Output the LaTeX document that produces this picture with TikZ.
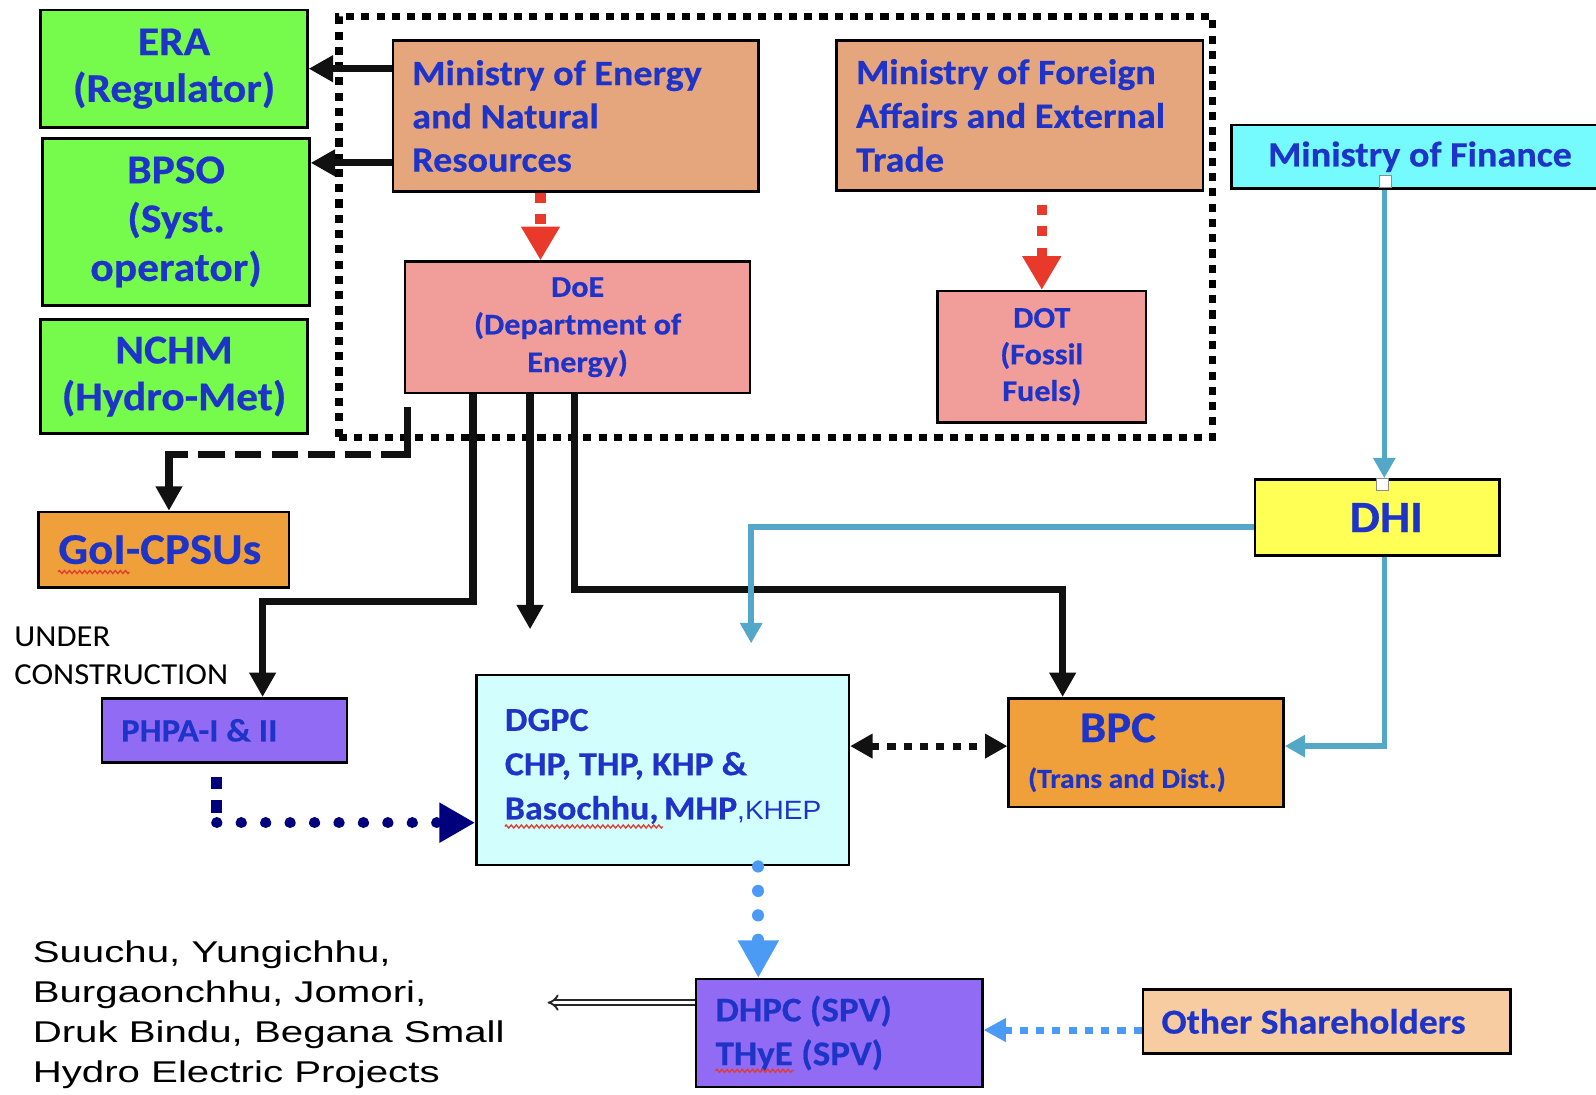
\documentclass[tikz,border=0pt]{standalone}
\usepackage{fontspec}
\setmainfont{Carlito}[FakeStretch=1.07, BoldFeatures={FakeBold=0.5}]
\newfontfamily\arialx{Liberation Sans}[FakeStretch=1.34]
\newfontfamily\arialk{Liberation Sans}[FakeStretch=1.06]
\usetikzlibrary{arrows.meta,calc,decorations.pathmorphing}
\definecolor{tblue}{RGB}{30,52,200}
\definecolor{cgreen}{RGB}{118,250,75}
\definecolor{cmin}{RGB}{230,166,125}
\definecolor{cpink}{RGB}{241,158,155}
\definecolor{ccyan}{RGB}{117,251,253}
\definecolor{cyel}{RGB}{255,255,85}
\definecolor{corange}{RGB}{240,160,58}
\definecolor{cpurp}{RGB}{145,107,243}
\definecolor{clcyan}{RGB}{210,254,254}
\definecolor{cpeach}{RGB}{246,204,160}
\definecolor{cred}{RGB}{232,57,43}
\definecolor{cblu}{RGB}{83,168,200}
\definecolor{cnavy}{RGB}{0,0,125}
\definecolor{clb}{RGB}{75,155,245}
\definecolor{cwave}{RGB}{225,60,50}
\definecolor{cblk}{RGB}{17,17,17}
\tikzset{
  bx/.style={draw=black, line width=2.5pt, inner sep=0pt, text=tblue},
  blk/.style={draw=cblk, line width=7pt, -{Triangle[length=24pt,width=25pt]}},
  blkline/.style={draw=cblk, line width=7pt, line cap=rect},
  blkdash/.style={draw=cblk, line width=7pt, dash pattern=on 26pt off 10pt},
  redar/.style={draw=cred, line width=10pt, dash pattern=on 10pt off 11pt, -{Triangle[length=33pt,width=36pt]}},
  blu/.style={draw=cblu, line width=5.5pt, -{Triangle[length=20pt,width=21pt]}},
  dd/.style={draw=cblk, line width=7pt, dash pattern=on 8pt off 8pt, {Triangle[length=22pt,width=23pt]}-{Triangle[length=22pt,width=23pt]}},
  navsq/.style={draw=cnavy, line width=11pt, dash pattern=on 12pt off 11pt},
  navdot/.style={draw=cnavy, line width=11pt, line cap=round, dash pattern=on 0.01pt off 24pt, -{Triangle[length=35pt,width=37pt]}},
  lbdot/.style={draw=clb, line width=12pt, line cap=round, dash pattern=on 0.01pt off 24pt, -{Triangle[length=37pt,width=38pt]}},
  lbsq/.style={draw=clb, line width=7pt, dash pattern=on 8pt off 8pt, -{Triangle[length=22pt,width=22pt]}},
  hol/.style={draw=black!85, line width=1.8pt, double=white, double distance=3.5pt, -{Implies}},
  hnd/.style={draw=black!45, fill=white, line width=0.8pt, minimum size=12pt, inner sep=0pt},
  wave/.style={draw=cwave, line width=1.3pt, decorate, decoration={zigzag, segment length=5pt, amplitude=1.5pt}},
  frame/.style={draw=black, line width=7pt, dash pattern=on 8pt off 7pt, inner sep=0pt}
}
\begin{document}
\begin{tikzpicture}[x=1pt,y=-1pt]
\useasboundingbox (0,0) rectangle (1568,1075);
\fill[white] (0,0) rectangle (1568,1075);

% dotted frame
\node[frame, minimum width=858pt, minimum height=414pt] (frame) at (762,223) {};

% boxes
\node[bx, fill=cgreen, minimum width=262pt, minimum height=115pt, align=center,
  font=\bfseries\fontsize{40}{46}\selectfont] (era) at (171,67.5) {ERA\\(Regulator)};
\node[bx, fill=cgreen, minimum width=262pt, minimum height=164pt, align=center,
  font=\bfseries\fontsize{40}{48}\selectfont] (bpso) at (173,218) {BPSO\\(Syst.\\operator)};
\node[bx, fill=cgreen, minimum width=262pt, minimum height=112pt, align=center,
  font=\bfseries\fontsize{40}{46}\selectfont] (nchm) at (171,370) {NCHM\\(Hydro-Met)};

\node[bx, fill=cmin, minimum width=359pt, minimum height=148pt, text width=321pt, align=flush left,
  font=\bfseries\fontsize{35}{42.5}\selectfont] (moe) at (565.5,114) {Ministry of Energy\\and Natural\\Resources};
\node[bx, fill=cmin, minimum width=360pt, minimum height=147pt, text width=322pt, align=flush left,
  font=\bfseries\fontsize{35}{43}\selectfont] (mofa) at (1002,113.5) {Ministry of Foreign\\Affairs~and~External\\Trade};

\node[bx, fill=cpink, minimum width=339pt, minimum height=129pt, align=center,
  font=\bfseries\fontsize{29.5}{37}\selectfont] (doe) at (567.5,321.5) {DoE\\(Department of\\Energy)};
\node[bx, fill=cpink, minimum width=205pt, minimum height=129pt, align=center,
  font=\bfseries\fontsize{29.5}{36}\selectfont] (dot) at (1023.5,350.5) {DOT\\(Fossil\\Fuels)};

\node[bx, fill=ccyan, minimum width=370pt, minimum height=62pt, align=center,
  font=\bfseries\fontsize{35}{42}\selectfont] (mof) at (1395,154) {Ministry of Finance};
\node[bx, fill=cyel, minimum width=240pt, minimum height=75pt, align=center,
  font=\bfseries\fontsize{44}{50}\selectfont] (dhi) at (1353,508.5) {\hspace*{18pt}DHI};

\node[bx, fill=corange, minimum width=246pt, minimum height=74pt, align=center,
  font=\bfseries\fontsize{43}{50}\selectfont] (goi) at (161,540) {\hspace*{-8pt}GoI-CPSUs};
\node[bx, fill=cpurp, minimum width=241pt, minimum height=63pt, text width=203pt, align=flush left,
  font=\bfseries\fontsize{32}{40}\selectfont] (phpa) at (220.5,717.5) {PHPA-I \& II};

\node[bx, fill=clcyan, minimum width=366pt, minimum height=187pt, text width=310pt, align=flush left,
  font=\bfseries\fontsize{33}{43.5}\selectfont] (dgpc) at (651,756.5)
  {DGPC\\CHP, THP, KHP \&\\Basochhu,~MHP{\arialk\mdseries\fontsize{26}{43.5}\selectfont ,KHEP}\\[-32pt]\mbox{}};

\node[bx, fill=corange, minimum width=270pt, minimum height=107pt, text width=232pt, align=flush left,
  font=\bfseries\fontsize{43}{45}\selectfont] (bpc) at (1126,739.5)
  {\hspace*{51pt}BPC\\{\fontsize{27}{45}\selectfont (Trans~and~Dist.)}};

\node[bx, fill=cpurp, minimum width=281pt, minimum height=106pt, text width=243pt, align=flush left,
  font=\bfseries\fontsize{34}{43}\selectfont] (dhpc) at (824.5,1015) {DHPC~(SPV)\\THyE~(SPV)};
\node[bx, fill=cpeach, minimum width=361pt, minimum height=63pt, text width=325pt, align=flush left,
  font=\bfseries\fontsize{34.5}{40}\selectfont] (other) at (1303.5,1003.5) {Other~Shareholders};

% free texts
\node[anchor=west, align=flush left, inner sep=0pt, text=black,
  font=\fontsize{30}{37}\selectfont] (uc) at (14,644.5) {UNDER\\CONSTRUCTION};
\node[anchor=west, align=flush left, inner sep=0pt, text=black,
  font=\arialx\fontsize{29.5}{39.3}\selectfont] (proj) at (32,997)
  {Suuchu, Yungichhu,\\Burgaonchhu, Jomori,\\Druk Bindu, Begana Small\\Hydro Electric Projects};

% spell-check squiggles
\draw[wave] (57,562) -- (127,562);
\draw[wave] (496,812) -- (651,812);
\draw[wave] (703,1052) -- (780,1052);

% MoE -> ERA, BPSO
\draw[blk] (moe.west |- era.east) -- (era.east);
\coordinate (b1) at ($(moe.west)+(0,46)$);
\draw[blk] (b1) -- (b1 -| bpso.east);

% red dashed arrows
\coordinate (r1) at ($(moe.south)+(-34.5,0)$);
\draw[redar] (r1) -- (r1 |- doe.north);
\path (dot.north |- mofa.south) coordinate (r2a);
\coordinate (r2) at ($(r2a)+(0,13)$);
\draw[redar] (r2) -- (dot.north);

% DoE outgoing
\coordinate (d1) at ($(doe.south west)+(68,0)$);
\coordinate (d2) at ($(doe.south west)+(124,0)$);
\coordinate (d3) at ($(doe.south west)+(168,0)$);
\coordinate (p1) at ($(phpa.north)+(37.5,0)$);
\draw[blk] (d1) -- ++(0,204) -| (p1);
\coordinate (d2e) at ($(d2)+(0,231)$);
\draw[blk] (d2) -- (d2e);
\coordinate (b2) at ($(bpc.north)+(-82,0)$);
\draw[blk] (d3) -- ++(0,192) -| (b2);

% DoE -> GoI-CPSUs dashed
\coordinate (gs) at ($(doe.south west)+(4,16)$);
\coordinate (gc1) at ($(gs)+(0,43)$);
\coordinate (gt) at ($(goi.north)+(5,0)$);
\coordinate (gc2) at (gc1 -| gt);
\draw[blkline] (gs) -- (gc1);
\draw[blkdash] (gc1) -- (gc2);
\draw[blk, line cap=rect] (gc2) -- (gt);

% blue (DHI)
\coordinate (f1) at ($(mof.south)+(-35,0)$);
\draw[blu] (f1) -- (f1 |- dhi.north);
\coordinate (h1) at ($(dhi.west)+(0,9.5)$);
\coordinate (h1e) at (738,632);
\draw[blu] (h1) -| (h1e);
\coordinate (h2) at ($(dhi.south)+(7,0)$);
\coordinate (h2e) at ($(bpc.east)+(0,-6.5)$);
\draw[blu] (h2) |- (h2e);
\node[hnd] (hd1) at (1361,178) {};
\node[hnd] (hd2) at (1358,476) {};

% DGPC <-> BPC
\coordinate (g1) at ($(dgpc.east)+(0,-23.5)$);
\draw[dd] (g1) -- (g1 -| bpc.west);

% PHPA -> DGPC
\coordinate (n0) at ($(phpa.south)+(-7.5,13)$);
\coordinate (n1) at ($(n0)+(0,45)$);
\draw[navsq] (n0) -- (n1);
\draw[navdot] (n1) -- (n1 -| dgpc.west);

% DGPC -> DHPC
\coordinate (l1) at ($(dgpc.south)+(94,0)$);
\draw[lbdot] (l1) -- (l1 |- dhpc.north);

% Other -> DHPC
\coordinate (o1) at ($(other.west)+(0,8.5)$);
\draw[lbsq] (o1) -- (o1 -| dhpc.east);

% DHPC -> projects
\coordinate (s1) at ($(dhpc.west)+(0,-30)$);
\coordinate (s2) at (538,985);
\draw[hol] (s1) -- (s2);
\end{tikzpicture}
\end{document}
